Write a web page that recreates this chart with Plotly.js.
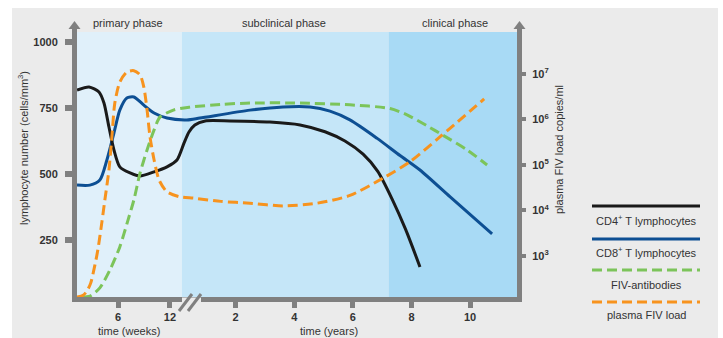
<!DOCTYPE html>
<html><head><meta charset="utf-8">
<script src="https://cdn.plot.ly/plotly-3.0.1.min.js"></script>
<style>html,body{margin:0;padding:0;background:#fff;} #chart{position:absolute;left:12px;top:8px;width:706px;height:330px;}</style>
</head><body><div id="chart"></div>
<script>
// Timeline position: years scale; the weeks part (before the axis break) is compressed to the left of 0.
const cd4Time = [-3.41,-3.00,-2.66,-2.49,-2.32,-2.15,-1.95,-1.60,-1.26,-0.78,-0.34,0.00,0.24,0.41,0.61,0.96,1.81,3.17,4.20,5.05,5.73,6.35,6.85,7.34,7.80,8.29];
const cd4Cells = [818,830,811,769,678,591,527,504,492,508,527,553,617,659,686,701,701,697,686,660,625,575,510,405,290,148];

const cd8Time = [-3.41,-2.97,-2.63,-2.39,-2.15,-1.95,-1.71,-1.47,-1.13,-0.78,-0.34,0.34,0.78,2.49,3.62,4.54,5.22,5.90,6.83,7.61,8.29,9.32,10.75];
const cd8Cells = [458,458,477,553,655,742,788,792,761,731,712,705,712,742,754,754,738,705,635,570,515,413,273];

// log10 of FIV-antibody level on the right (copies/ml) axis
const abTime = [-3.24,-2.97,-2.63,-2.29,-1.95,-1.67,-1.47,-1.26,-1.02,-0.78,-0.58,-0.10,0.44,1.50,2.49,4.20,5.90,7.27,7.85,8.53,9.08,9.90,10.58];
const abLog10 = [2.10,2.12,2.30,2.69,3.20,3.79,4.23,4.82,5.33,5.77,6.05,6.21,6.27,6.33,6.36,6.36,6.32,6.24,6.10,5.86,5.65,5.33,5.00];

// log10 of plasma FIV load (copies/ml)
const loadTime = [-3.41,-3.20,-3.07,-2.94,-2.80,-2.70,-2.56,-2.46,-2.32,-2.22,-2.12,-1.95,-1.71,-1.47,-1.26,-1.13,-1.02,-0.92,-0.78,-0.61,-0.34,0.10,0.58,1.50,2.49,3.62,4.78,5.90,7.03,7.95,8.98,10.48];
const loadLog10 = [2.10,2.14,2.23,2.41,2.80,3.13,3.75,4.23,4.89,5.62,6.36,6.82,7.04,7.07,6.98,6.71,6.21,5.62,5.11,4.67,4.41,4.30,4.27,4.20,4.16,4.10,4.16,4.33,4.71,5.07,5.62,6.45];

const xTickVals = [-2.01,-0.24,2,4,6,8,10];
const xTickText = ['6','12','2','4','6','8','10'];
const yTickVals = [250,500,750,1000];
const y2TickVals = [1e3,1e4,1e5,1e6,1e7];
const y2TickText = ['10<sup>3</sup>','10<sup>4</sup>','10<sup>5</sup>','10<sup>6</sup>','10<sup>7</sup>'];
const phaseNames = ['primary phase','subclinical phase','clinical phase'];
const phaseBounds = [-3.41,0.17,7.23,11.6];
const seriesNames = ['CD4<sup>+</sup> T lymphocytes','CD8<sup>+</sup> T lymphocytes','FIV-antibodies','plasma FIV load'];

const FONT = 'Liberation Sans, Arial, Helvetica, sans-serif';
const GRAY = '#808080';
const cBlack = '#1a1a1a', cBlue = '#0d4f93', cGreen = '#7cc45a', cOrange = '#f7931e';
const DASH = '10px,5px';
const SM = 0.7;

const traces = [
  {x: cd8Time, y: cd8Cells, mode:'lines', line:{color:cBlue, width:3, shape:'spline', smoothing:SM}, yaxis:'y', hoverinfo:'skip'},
  {x: cd4Time, y: cd4Cells, mode:'lines', line:{color:cBlack, width:3, shape:'spline', smoothing:SM}, yaxis:'y', hoverinfo:'skip'},
  {x: abTime, y: abLog10.map(v=>Math.pow(10,v)), mode:'lines', line:{color:cGreen, width:3, shape:'spline', smoothing:SM, dash:DASH}, yaxis:'y2', hoverinfo:'skip'},
  {x: loadTime, y: loadLog10.map(v=>Math.pow(10,v)), mode:'lines', line:{color:cOrange, width:3, shape:'spline', smoothing:SM, dash:DASH}, yaxis:'y2', hoverinfo:'skip'}
];

const px = p => (p-77)/440;
const py = p => (297-p)/265;

const tickFont = {family:FONT, size:11, color:'#333', weight:'bold'};
const shapes = [];
const phaseColors = ['#e0f0fa','#c5e6f8','#a8daf5'];
for (let i=0;i<3;i++) {
  shapes.push({type:'rect', xref:'x', yref:'paper', x0:phaseBounds[i], x1:phaseBounds[i+1], y0:0, y1:1, fillcolor:phaseColors[i], line:{width:0}, layer:'below'});
}
// axis arrowheads
[74.5, 519.5].forEach(cx => {
  shapes.push({type:'line', xref:'paper', yref:'paper', x0:px(cx), x1:px(cx), y0:py(33), y1:py(27), line:{color:GRAY, width:5}});
  shapes.push({type:'path', xref:'paper', yref:'paper', path:`M ${px(cx-6)} ${py(29)} L ${px(cx)} ${py(21)} L ${px(cx+6)} ${py(29)} Z`, fillcolor:GRAY, line:{width:0}});
});
// axis break
shapes.push({type:'rect', xref:'paper', yref:'paper', x0:px(182), x1:px(201), y0:py(297.5), y1:py(303.5), fillcolor:'#ebebeb', line:{width:0}});
shapes.push({type:'line', xref:'paper', yref:'paper', x0:px(179), y0:py(311), x1:px(192), y1:py(294), line:{color:GRAY, width:3}});
shapes.push({type:'line', xref:'paper', yref:'paper', x0:px(188), y0:py(311), x1:px(201), y1:py(294), line:{color:GRAY, width:3}});

// legend
const legY = [206,239,270,302], legTextY = [220,252,285,315];
const legColors = [cBlack,cBlue,cGreen,cOrange];
const legDash = ['solid','solid',DASH,DASH];
const annotations = [];
for (let i=0;i<4;i++) {
  shapes.push({type:'line', xref:'paper', yref:'paper', x0:px(592), x1:px(700), y0:py(legY[i]), y1:py(legY[i]), line:{color:legColors[i], width:3, dash:legDash[i]}});
  annotations.push({xref:'paper', yref:'paper', x:px(646), y:py(legTextY[i]), text:seriesNames[i], showarrow:false, xanchor:'center', yanchor:'middle', font:{family:FONT, size:11, color:'#333'}});
}
const phaseX = [128, 284, 455];
for (let i=0;i<3;i++) {
  annotations.push({xref:'paper', yref:'paper', x:px(phaseX[i]), y:py(23), text:phaseNames[i], showarrow:false, xanchor:'center', yanchor:'middle', font:{family:FONT, size:11, color:'#333'}});
}
annotations.push({xref:'paper', yref:'paper', x:px(129), y:py(331), text:'time (weeks)', showarrow:false, xanchor:'center', yanchor:'middle', font:{family:FONT, size:11, color:'#333'}});
annotations.push({xref:'paper', yref:'paper', x:px(329), y:py(331), text:'time (years)', showarrow:false, xanchor:'center', yanchor:'middle', font:{family:FONT, size:11, color:'#333'}});
annotations.push({xref:'paper', yref:'paper', x:px(23), y:py(148), text:'lymphocyte number (cells/mm<sup>3</sup>)', textangle:-90, showarrow:false, xanchor:'center', yanchor:'middle', font:{family:FONT, size:11, color:'#333'}});
annotations.push({xref:'paper', yref:'paper', x:px(559), y:py(150), text:'plasma FIV load copies/ml', textangle:-90, showarrow:false, xanchor:'center', yanchor:'middle', font:{family:FONT, size:11, color:'#333'}});

const layout = {
  width:706, height:330,
  margin:{l:65, r:201, t:24, b:41, pad:0},
  paper_bgcolor:'#ebebeb', plot_bgcolor:'rgba(0,0,0,0)',
  showlegend:false,
  xaxis:{range:[phaseBounds[0], phaseBounds[3]], showgrid:false, zeroline:false, showline:true, linecolor:GRAY, linewidth:5,
    ticks:'outside', ticklen:6, tickwidth:5, tickcolor:GRAY, tickmode:'array', tickvals:xTickVals, ticktext:xTickText, tickfont:tickFont, fixedrange:true},
  yaxis:{range:[34,1038], showgrid:false, zeroline:false, showline:true, linecolor:GRAY, linewidth:5,
    ticks:'outside', ticklen:7, tickwidth:6, tickcolor:GRAY, tickmode:'array', tickvals:yTickVals, tickfont:tickFont, ticklabelstandoff:5, fixedrange:true},
  yaxis2:{type:'log', range:[2.10,7.92], overlaying:'y', side:'right', showgrid:false, zeroline:false, showline:true, linecolor:GRAY, linewidth:5,
    ticks:'outside', ticklen:4, tickwidth:4, tickcolor:GRAY, tickmode:'array', tickvals:y2TickVals, ticktext:y2TickText, tickfont:tickFont, ticklabelstandoff:4, fixedrange:true},
  shapes: shapes,
  annotations: annotations
};
Plotly.newPlot('chart', traces, layout, {staticPlot:true, displayModeBar:false});
</script></body></html>
